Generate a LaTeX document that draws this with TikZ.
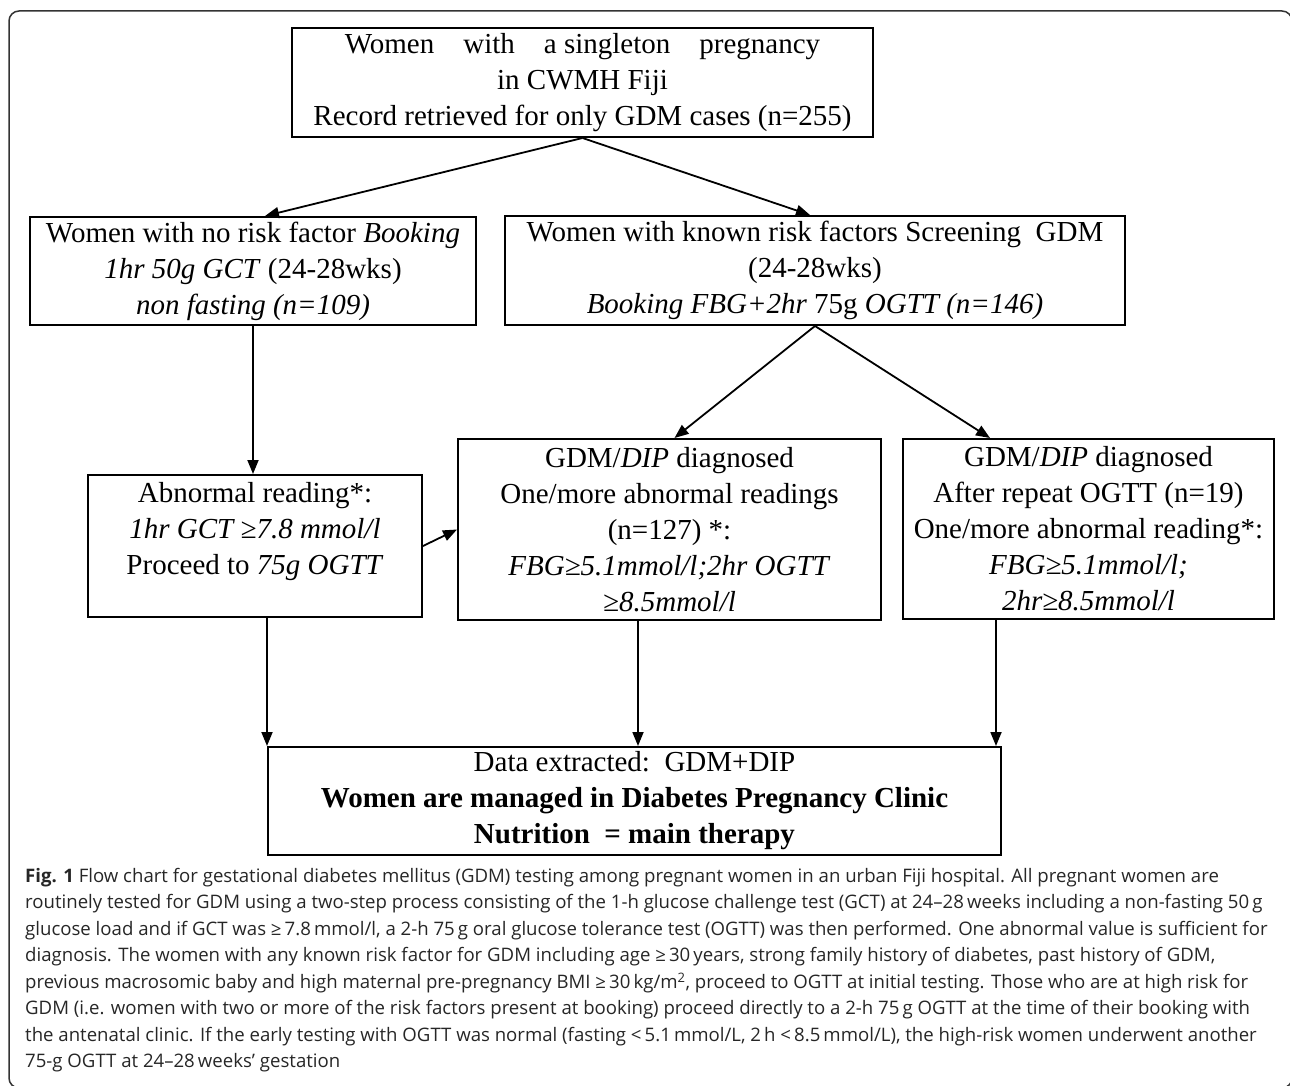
\documentclass[tikz,border=0pt]{standalone}
\usepackage{fontspec}
\setmainfont{Liberation Serif}
\newfontfamily\capfont{Open Sans}
\usetikzlibrary{arrows.meta,calc}

\begin{document}
\begin{tikzpicture}[x=1pt,y=-1pt]
			\tikzset{box/.style={draw,line width=2pt,align=center,inner sep=0pt,font=\fontsize{29}{36}\selectfont}}
			\tikzset{link/.style={line width=1.8pt,-{Triangle[length=14pt,width=11pt]}}}
			\useasboundingbox (0,0) rectangle (1290,1086);
			\draw[line width=1.5pt,black!80,rounded corners=10pt] (9,11) rectangle (1292,1088);
			\node[box,minimum width=581pt,minimum height=109pt] (top) at (582.5,82.5) {Women\hspace{1em}with\hspace{1em}a singleton\hspace{1em}pregnancy\\ in CWMH Fiji\\ Record retrieved for only GDM cases (n=255)};
			\node[box,minimum width=446pt,minimum height=108pt] (norisk) at (253,271) {Women with no risk factor \textit{Booking}\\ \textit{1hr 50g GCT} (24-28wks)\\ \textit{non fasting (n=109)}};
			\node[box,minimum width=620pt,minimum height=109pt] (risk) at (815,270.5) {Women with known risk factors Screening~ GDM\\ (24-28wks)\\ \textit{Booking FBG+2hr} 75g \textit{OGTT (n=146)}};
			\node[box,minimum width=334pt,minimum height=142pt] (abn) at (255,546) {Abnormal reading*:\\ \textit{1hr GCT ≥7.8 mmol/l}\\ Proceed to \textit{75g OGTT}\\ \mbox{}};
			\node[box,minimum width=423pt,minimum height=181pt] (diag) at (669.5,529.5) {GDM/\textit{DIP} diagnosed\\ One/more abnormal readings\\ (n=127) *:\\ \textit{FBG≥5.1mmol/l;2hr OGTT}\\ \textit{≥8.5mmol/l}};
			\node[box,minimum width=371pt,minimum height=180pt] (repeat) at (1088.5,529) {GDM/\textit{DIP} diagnosed\\ After repeat OGTT (n=19)\\ One/more abnormal reading*:\\ \textit{FBG≥5.1mmol/l;}\\ \textit{2hr≥8.5mmol/l}};
			\node[box,minimum width=733pt,minimum height=108pt] (data) at (634.5,801) {Data extracted:~~GDM+DIP\\ \textbf{Women are managed in Diabetes Pregnancy Clinic}\\ \textbf{Nutrition~~= main therapy}};
			\coordinate (dataleft) at (data.north west);
			\coordinate (datamid) at ([xshift=3.5pt]data.north);
			\coordinate (dataright) at ([xshift=-6pt]data.north east);
			\draw[link] (top.south) -- ([xshift=12pt]norisk.north);
			\draw[link] (top.south) -- ([xshift=-5pt]risk.north);
			\draw[link] (norisk.south) -- (norisk.south |- abn.north);
			\draw[link] (risk.south) -- ([xshift=5pt]diag.north);
			\draw[link] (risk.south) -- ([xshift=88pt]repeat.north west);
			\draw[link] (abn.east) -- (diag.west);
			\draw[link] (abn.south -| dataleft) -- (dataleft);
			\draw[link] (diag.south -| datamid) -- (datamid);
			\draw[link] (repeat.south -| dataright) -- (dataright);
			\node[anchor=north west,align=left,inner sep=0pt,text=black!85,font=\capfont\fontsize{18.6}{26.5}\selectfont] (caption) at (25,868) {\textbf{Fig. 1} Flow chart for gestational diabetes mellitus (GDM) testing among pregnant women in an urban Fiji hospital. All pregnant women are\\ routinely tested for GDM using a two-step process consisting of the 1-h glucose challenge test (GCT) at 24–28\,weeks including a non-fasting 50\,g\\ glucose load and if GCT was ≥\,7.8\,mmol/l, a 2-h 75\,g oral glucose tolerance test (OGTT) was then performed. One abnormal value is sufficient for\\ diagnosis. The women with any known risk factor for GDM including age ≥\,30\,years, strong family history of diabetes, past history of GDM,\\ previous macrosomic baby and high maternal pre-pregnancy BMI ≥\,30\,kg/m\textsuperscript{2}, proceed to OGTT at initial testing. Those who are at high risk for\\ GDM (i.e. women with two or more of the risk factors present at booking) proceed directly to a 2-h 75\,g OGTT at the time of their booking with\\ the antenatal clinic. If the early testing with OGTT was normal (fasting <\,5.1\,mmol/L, 2\,h <\,8.5\,mmol/L), the high-risk women underwent another\\ 75-g OGTT at 24–28\,weeks’ gestation};
		\end{tikzpicture}
\end{document}
